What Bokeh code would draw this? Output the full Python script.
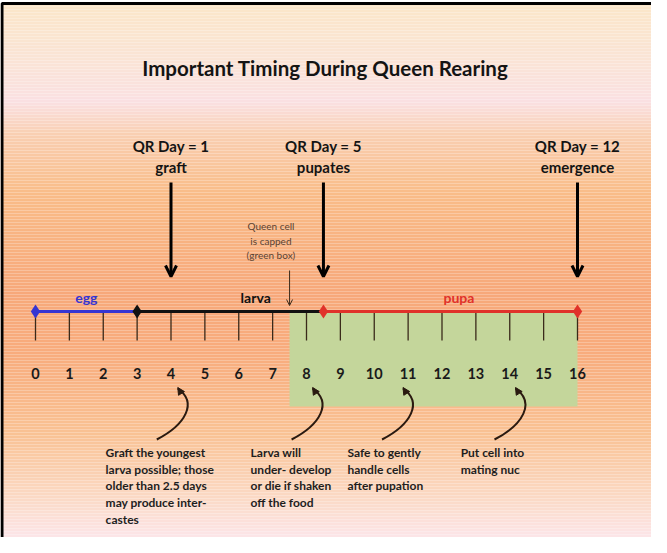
from bokeh.plotting import figure
from bokeh.models import Range1d, Arrow, OpenHead, NormalHead
from bokeh.core.properties import value
from bokeh.embed import file_html
from bokeh.resources import INLINE

# ---------------- data ----------------
title = "Important Timing During Queen Rearing"
days = list(range(0, 17))
day_labels = [str(d) for d in days]

phases = ["egg", "larva", "pupa"]
phase_start = [0, 3, 8.5]
phase_end = [3, 8.5, 16]
phase_label_x = [1.5, 6.5, 12.5]
phase_colors = ["#3535d2", "#111111", "#e0322a"]

qr_days = [1, 5, 12]
qr_events = ["graft", "pupates", "emergence"]
qr_timeline_x = [4, 8.5, 16]

capped_day = 7.5
capped_text = ["Queen cell", "is capped", "(green box)"]

note_tip_x = [4.2, 8.18, 10.85, 14.17]
note_text_x = [2.07, 6.35, 9.21, 12.55]
note_texts = [
    ["Graft the youngest", "larva possible; those", "older than 2.5 days", "may produce inter-", "castes"],
    ["Larva will", "under- develop", "or die if shaken", "off the food"],
    ["Safe to gently", "handle cells", "after pupation"],
    ["Put cell into", "mating nuc"],
]

# ---------------- layout constants ----------------
W, H = 651, 537
PX = 33.875                    # pixels per day
X0 = -35 / PX                  # day at figure left edge
X1 = X0 + W / PX
FONT = value("Lato")

p = figure(width=W, height=H, output_backend="svg", toolbar_location=None,
           x_range=Range1d(X0, X1), y_range=Range1d(545, 8),
           min_border=0, outline_line_color=None)
p.axis.visible = False
p.grid.visible = False
p.background_fill_color = "white"
p.border_fill_color = "white"

# ---------------- background gradient ----------------
stops = [(11, (251, 230, 201)), (60, (250, 228, 212)), (108, (250, 224, 226)),
         (140, (249, 207, 178)), (200, (249, 188, 136)), (300, (247, 168, 122)),
         (360, (248, 172, 125)), (440, (249, 194, 148)), (500, (251, 216, 194)),
         (545, (252, 230, 234))]

def col_at(y):
    for (ya, ca), (yb, cb) in zip(stops[:-1], stops[1:]):
        if ya <= y <= yb:
            t = (y - ya) / (yb - ya)
            c = [round(a + (b - a) * t) for a, b in zip(ca, cb)]
            return "#%02x%02x%02x" % tuple(c)
    return "#%02x%02x%02x" % stops[-1][1]

ys = list(range(11, 546, 3))
p.quad(left=X0, right=X1, top=ys[:-1], bottom=ys[1:],
       fill_color=[col_at(y) for y in ys[:-1]], line_color=None)

# frame
fx = X0 + 1.5 / PX
p.line([fx, fx, X1], [546, 11, 11], line_color="black", line_width=3)

# ---------------- title ----------------
p.text(x=[(X0 + X1) / 2 - 0.02], y=[75], text=[title], text_font=FONT,
       text_font_size="20.5px", text_font_style="bold", text_color="#141414",
       text_align="center", text_baseline="middle")

# ---------------- green box (capped period) ----------------
p.quad(left=[capped_day], right=[16], top=[319], bottom=[414],
       fill_color="#c4d69b", line_color=None)

# ---------------- timeline ----------------
p.segment(x0=days, y0=319, x1=days, y1=348, line_color="#3a2a1a", line_width=1.3)
for s, e, c in zip(phase_start, phase_end, phase_colors):
    p.line([s, e], [319, 319], line_color=c, line_width=3)
p.scatter(x=phase_start + [16], y=[319] * 4, marker="diamond", size=14,
          fill_color=[phase_colors[0], phase_colors[1], phase_colors[2], phase_colors[2]],
          line_color=None)
p.text(x=phase_label_x, y=[305] * 3, text=phases, text_font=FONT,
       text_font_size="14px", text_font_style="bold", text_color=phase_colors,
       text_align="center", text_baseline="middle")
p.text(x=days, y=[381] * len(days), text=day_labels, text_font=FONT,
       text_font_size="14.5px", text_font_style="bold", text_color="#1a1a1a",
       text_align="center", text_baseline="middle")

# ---------------- QR day events ----------------
for d, ev, xx in zip(qr_days, qr_events, qr_timeline_x):
    p.text(x=[xx, xx], y=[153, 174], text=["QR Day = %d" % d, ev], text_font=FONT,
           text_font_size="15px", text_font_style="bold", text_color="#141414",
           text_align="center", text_baseline="middle")
    p.add_layout(Arrow(end=OpenHead(size=11, line_width=3, line_color="black"),
                       x_start=xx, y_start=190, x_end=xx, y_end=284,
                       line_width=3, line_color="black"))

# capped note
p.text(x=[capped_day - 0.55] * 3, y=[233, 248, 262], text=capped_text, text_font=FONT,
       text_font_size="10px", text_color="#5a4232",
       text_align="center", text_baseline="middle")
p.add_layout(Arrow(end=OpenHead(size=6, line_width=1, line_color="#3a2a1a"),
                   x_start=capped_day, y_start=278, x_end=capped_day, y_end=313,
                   line_width=1, line_color="#3a2a1a"))

# ---------------- notes with curved arrows ----------------
for tip, tx, lines in zip(note_tip_x, note_text_x, note_texts):
    p.bezier(x0=[tip - 21 / PX], y0=[447], x1=[tip], y1=[396],
             cx0=[tip + 8 / PX], cy0=[432], cx1=[tip + 20 / PX], cy1=[410],
             line_color="#2a1a10", line_width=2)
    p.add_layout(Arrow(end=NormalHead(size=7, fill_color="#2a1a10", line_color="#2a1a10"),
                       x_start=tip + 2.5 / PX, y_start=399, x_end=tip, y_end=395,
                       line_width=2, line_color="#2a1a10"))
    p.text(x=[tx] * len(lines), y=[460 + 16.7 * i for i in range(len(lines))], text=lines,
           text_font=FONT, text_font_size="12px", text_font_style="bold",
           text_color="#1e1e1e", text_align="left", text_baseline="middle")

open("out.html", "w").write(file_html(p, INLINE))
